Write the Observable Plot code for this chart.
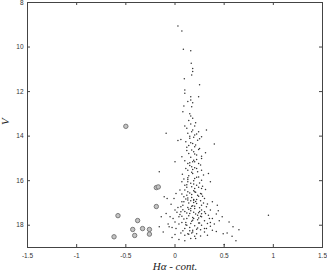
<!DOCTYPE html>
<html><head><meta charset="utf-8">
<script src="https://cdn.jsdelivr.net/npm/d3@7"></script>
<script src="https://cdn.jsdelivr.net/npm/@observablehq/plot@0.6"></script>
<style>body{margin:0;background:#fff}</style>
</head><body><div id="chart"></div>
<script>
const xTicks = [-1.5, -1, -0.5, 0, 0.5, 1, 1.5];
const yTicks = [8, 10, 12, 14, 16, 18];
// emission-line candidates (circled)
const circleX = [-0.5, -0.19, -0.17, -0.19, -0.58, -0.38, -0.43, -0.33, -0.26, -0.26, -0.41, -0.62];
const circleV = [13.56, 16.31, 16.28, 17.16, 17.57, 17.79, 18.19, 18.15, 18.19, 18.40, 18.46, 18.52];
// field stars
const starX = [0.03,0.07,0.085,0.16,0.165,0.18,0.18,0.17,0.095,0.25,0.1,0.1,0.16,0.24,0.16,0.13,0.18,0.09,0.17,0.08,0.15,0.16,0.18,0.1,0.16,0.2,0.18,0.24,0.32,0.13,0.2,0.15,0.06,0.03,-0.09,0.23,0.27,0.4,0.18,0.2,0.12,0.25,0.19,0.14,0.22,0.07,0.27,0.19,0.13,0.24,0.0,0.17,0.22,0.27,0.13,0.18,0.075,0.34,-0.16,0.24,0.13,0.27,0.19,0.07,0.36,0.1,0.22,0.17,0.27,0.05,0.13,0.2,0.26,0.01,0.09,0.17,0.3,0.22,-0.01,-0.11,-0.08,0.13,0.07,0.19,0.38,0.43,0.27,0.32,-0.04,0.06,0.13,0.2,0.27,0.36,0.44,0.0,0.06,0.15,0.24,0.31,-0.09,-0.14,-0.05,0.04,0.12,0.19,0.27,0.38,0.48,0.55,0.95,0.0,0.07,0.16,0.25,0.33,0.4,-0.16,-0.06,0.01,0.1,0.18,0.3,0.59,0.65,-0.12,0.06,0.13,0.22,0.38,0.49,-0.03,0.04,0.1,0.62,0.5,
0.14,0.21,0.12,0.17,0.22,0.15,0.19,0.25,0.11,0.16,0.21,0.14,0.24,0.17,0.12,0.2,0.27,0.16,0.22,0.1,0.18,0.26,0.15,0.2,0.11,0.23,0.17,0.29,0.14,0.2,0.09,0.25,0.16,0.12,0.2,0.31,0.07,0.17,0.23,0.28,0.11,0.19,0.26,0.14,0.22,0.33,0.08,0.18,0.03,0.25,0.16,0.1,0.3,0.21,0.05,0.34,0.14,0.26,0.42,-0.02,0.09,0.23,0.3,0.17,0.45,0.04,0.12,0.2,0.27,0.36,-0.03,0.15,0.23,0.08,0.18,0.3,0.42,0.0,0.1,0.2,0.26,0.16,0.33,0.53,0.58,
0.13,0.19,0.24,0.1,0.15,0.21,0.27,0.13,0.09,0.21,0.29,0.16,0.12,0.19,0.27,0.07,0.18,0.24,0.11,-0.07,0.36,0.32,
0.15,0.18,0.22,0.12,0.19,0.24,0.16,0.2,0.14,0.23,0.18,0.11,0.26,0.17,0.21,0.13,0.28,0.19,0.08,0.24,0.15,0.31,0.2,0.12,0.17,0.25,0.35,0.02,0.22,0.14];
const starV = [9.06,9.28,10.1,10.17,10.73,10.96,11.1,11.26,11.42,11.69,11.93,12.08,12.23,12.23,12.38,12.45,12.5,12.65,12.68,12.9,13.0,13.1,13.2,13.55,13.45,13.55,13.72,13.8,13.72,13.87,13.95,14.1,14.15,14.2,13.87,14.18,14.03,14.35,14.33,14.48,14.5,14.55,14.7,14.78,14.85,14.93,15.0,15.08,15.23,15.23,15.15,15.38,15.45,15.53,15.53,15.68,15.71,15.68,15.6,15.83,15.87,15.98,16.0,16.05,16.05,16.2,16.2,16.27,16.35,16.42,16.5,16.5,16.57,16.57,16.72,16.75,16.8,16.85,16.8,16.72,16.8,16.87,16.95,16.98,16.95,17.1,17.1,17.17,17.06,17.17,17.2,17.25,17.32,17.32,17.35,17.32,17.4,17.47,17.44,17.47,17.47,17.62,17.62,17.62,17.7,17.7,17.62,17.7,17.62,17.85,17.55,17.85,17.88,17.92,17.9,17.92,17.95,18.07,18.07,18.15,18.15,18.22,18.15,18.07,18.2,18.3,18.35,18.38,18.38,18.22,18.38,18.55,18.64,18.7,18.7,18.86,
13.3,13.4,13.65,13.8,13.9,14.0,14.05,14.12,14.25,14.3,14.4,14.42,14.6,14.62,14.65,14.8,14.9,14.95,15.05,15.1,15.15,15.3,15.32,15.42,15.45,15.6,15.62,15.75,15.78,15.9,15.92,16.1,16.12,16.3,16.35,16.4,16.6,16.62,16.65,16.7,16.82,16.85,16.9,17.0,17.02,17.05,17.1,17.12,17.2,17.22,17.35,17.38,17.4,17.5,17.52,17.55,17.58,17.6,17.5,17.7,17.72,17.75,17.8,17.82,17.8,17.95,18.0,18.02,18.0,18.05,18.1,18.1,18.12,18.25,18.3,18.3,18.28,18.42,18.45,18.5,18.48,18.6,18.45,18.35,18.5,
16.05,16.15,16.3,16.42,16.55,16.52,16.6,16.78,16.95,16.93,17.0,17.25,17.45,17.42,17.48,17.6,17.65,17.9,17.88,17.95,17.88,18.15,
15.2,15.5,15.85,16.18,16.45,16.7,16.9,17.15,17.28,17.55,17.78,17.98,18.2,18.35,18.6,15.95,16.25,16.88,17.3,17.68,18.25,14.75,15.15,16.65,17.15,17.38,17.7,17.42,18.18,18.4];

const stars = starX.map((x, i) => ({x, v: starV[i]}));
const circles = circleX.map((x, i) => ({x, v: circleV[i]}));

const innerH = 273 - 2 - 26, innerW = 327 - 27 - 5, tl = 3;
const font = "Liberation Sans, Arial, sans-serif";
const fmt = d => String(d);

const chart = Plot.plot({
  width: 327, height: 273,
  marginLeft: 27, marginRight: 5, marginTop: 2, marginBottom: 26,
  style: {background: "#fff", fontFamily: font},
  x: {domain: [-1.5, 1.5]},
  y: {domain: [8, 19], reverse: true},
  marks: [
    Plot.frame({stroke: "#444", strokeWidth: 1}),
    Plot.ruleX(xTicks, {insetTop: innerH - tl, stroke: "#444"}),
    Plot.ruleX(xTicks, {insetBottom: innerH - tl, stroke: "#444"}),
    Plot.ruleY(yTicks, {insetRight: innerW - tl, stroke: "#444"}),
    Plot.ruleY(yTicks, {insetLeft: innerW - tl, stroke: "#444"}),
    Plot.axisX(xTicks, {tickSize: 0, tickPadding: 6, fontSize: 6.5, fill: "#333", label: null, tickFormat: fmt}),
    Plot.axisY(yTicks, {tickSize: 0, tickPadding: 4, fontSize: 6.5, fill: "#333", label: null, tickFormat: fmt}),
    Plot.dot(circles, {x: "x", y: "v", r: 2.2, fill: "#c4c4c4", stroke: "#7a7a7a", strokeWidth: 1}),
    Plot.dot(stars, {x: "x", y: "v", r: 0.75, fill: "#333", stroke: null}),
    Plot.text(["Hα - cont."], {frameAnchor: "bottom", dy: 22, fontSize: 11, fontStyle: "italic", fontFamily: "Liberation Serif, Times New Roman, serif", fill: "#222"}),
    Plot.text(["V"], {frameAnchor: "left", dx: -22, rotate: -90, fontSize: 11, fontStyle: "italic", fontFamily: "Liberation Serif, Times New Roman, serif", fill: "#222"})
  ]
});
document.getElementById("chart").appendChild(chart);
</script>
</body></html>
